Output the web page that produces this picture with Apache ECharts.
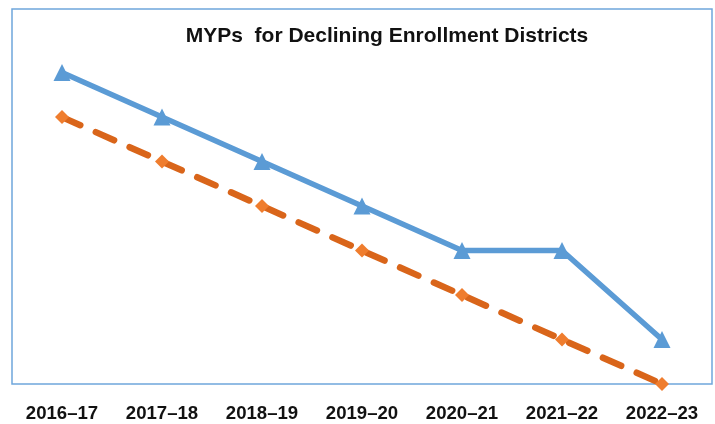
<!DOCTYPE html>
<html><head><meta charset="utf-8">
<script src="https://cdn.jsdelivr.net/npm/echarts@6/dist/echarts.min.js"></script>
<style>html,body{margin:0;padding:0;background:#fff}#c{width:715px;height:424px}</style>
</head><body><div id="c"></div>
<script>
var titleText = 'MYPs  for Declining Enrollment Districts';
var categories = ['2016–17','2017–18','2018–19','2019–20','2020–21','2021–22','2022–23'];
var blueValues = [7, 6, 5, 4, 3, 3, 1];
var orangeValues = [6, 5, 4, 3, 2, 1, 0];

var chart = echarts.init(document.getElementById('c'));
chart.setOption({
  animation: false,
  backgroundColor: '#ffffff',
  title: {
    text: titleText, left: 382, top: 21, textAlign: 'center',
    textStyle: {fontFamily: 'Liberation Sans', fontWeight: 'bold', fontSize: 21, color: '#111'}
  },
  grid: {left: 12, right: 3, top: 9, bottom: 40, show: true, borderColor: '#6fa6dc', borderWidth: 1.5, backgroundColor: 'transparent'},
  xAxis: {
    type: 'category', data: categories, boundaryGap: true,
    axisLine: {show: false}, axisTick: {show: false}, splitLine: {show: false},
    axisLabel: {interval: 0, margin: 20, fontFamily: 'Liberation Sans', fontWeight: 'bold', fontSize: 18.6, color: '#111'}
  },
  yAxis: {type: 'value', min: 0, max: 8.43, show: false, splitLine: {show: false}},
  series: [
    {
      type: 'line', data: orangeValues, z: 2,
      symbol: 'diamond', symbolSize: 14,
      itemStyle: {color: '#ef7d2e'},
      lineStyle: {color: '#d9651a', width: 6.5, type: [20, 17], cap: 'round'}
    },
    {
      type: 'line', data: blueValues, z: 3,
      symbol: 'triangle', symbolSize: 17,
      itemStyle: {color: '#5b9bd5'},
      lineStyle: {color: '#5b9bd5', width: 5.5}
    }
  ]
});
</script></body></html>
